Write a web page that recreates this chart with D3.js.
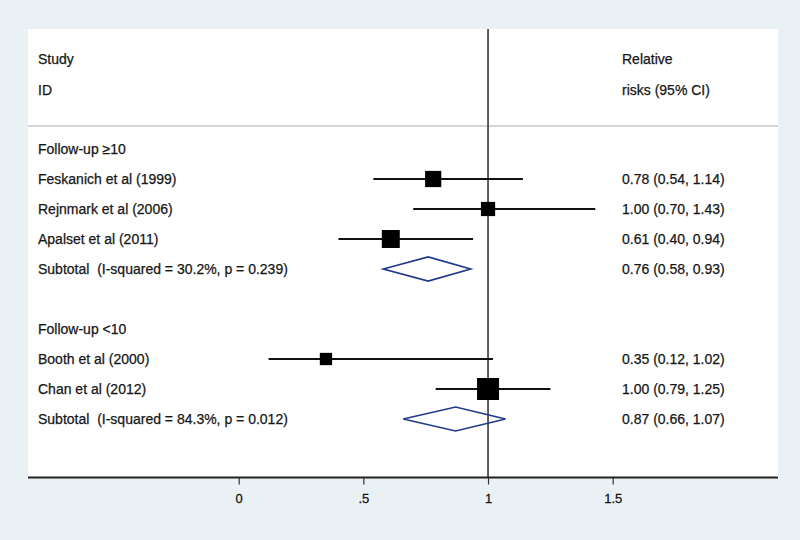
<!DOCTYPE html>
<html><head><meta charset="utf-8">
<script src="https://cdn.jsdelivr.net/npm/d3@7"></script>
<style>html,body{margin:0;padding:0;background:#e9f1f4;}svg{display:block;}text{white-space:pre;}</style>
</head><body>
<svg id="c" width="800" height="540"></svg>
<script>
// ---- data ----
const rowLabels = ["Follow-up \u226510","Feskanich et al (1999)","Rejnmark et al (2006)","Apalset et al (2011)","Subtotal  (I-squared = 30.2%, p = 0.239)","","Follow-up <10","Booth et al (2000)","Chan et al (2012)","Subtotal  (I-squared = 84.3%, p = 0.012)"];
const rowTypes = ["group","study","study","study","subtotal","blank","group","study","study","subtotal"];
const estimates = [null,0.78,1.00,0.61,0.76,null,null,0.35,1.00,0.87];
const lowerCI   = [null,0.54,0.70,0.40,0.58,null,null,0.12,0.79,0.66];
const upperCI   = [null,1.14,1.43,0.94,0.93,null,null,1.02,1.25,1.07];
const weights   = [null,26,20,32,null,null,null,15,48,null];
const effectText = ["","0.78 (0.54, 1.14)","1.00 (0.70, 1.43)","0.61 (0.40, 0.94)","0.76 (0.58, 0.93)","","","0.35 (0.12, 1.02)","1.00 (0.79, 1.25)","0.87 (0.66, 1.07)"];
const headerLeft = ["Study","ID"];
const headerRight = ["Relative","risks (95% CI)"];
const xTicks = [0,0.5,1,1.5];
const xTickLabels = ["0",".5","1","1.5"];

// ---- layout ----
const svg = d3.select("#c");
const W=800,H=540;
const plotL=28, plotR=778, plotT=29, axisY=477.5;
svg.append("rect").attr("width",W).attr("height",H).attr("fill","#e9f1f4");
svg.append("rect").attr("x",plotL).attr("y",plotT).attr("width",plotR-plotL).attr("height",axisY-plotT).attr("fill","#ffffff");

const x = d3.scaleLinear().domain([0,1.5]).range([238.7,612.7]);
const y = d3.scaleLinear().domain([0,1]).range([149,179]);
const font = "'Liberation Sans', Arial, Helvetica, sans-serif";
const txtCol = "#161616";
const fs = 14;

function label(t,xx,yy){
  svg.append("text").attr("x",xx).attr("y",yy).attr("dy","0.35em")
    .attr("font-family",font).attr("font-size",fs).attr("fill",txtCol)
    .attr("stroke",txtCol).attr("stroke-width",0.25).text(t);
}

// header
headerLeft.forEach((t,i)=>label(t,38,59+i*31));
headerRight.forEach((t,i)=>label(t,622,59+i*31));
svg.append("line").attr("x1",plotL).attr("x2",plotR).attr("y1",126).attr("y2",126)
  .attr("stroke","#c3c7cb").attr("stroke-width",1.6);

// null line
svg.append("line").attr("x1",x(1)).attr("x2",x(1)).attr("y1",plotT).attr("y2",axisY)
  .attr("stroke","#2a2a2a").attr("stroke-width",1.5);

const sizeScale = d3.scaleSqrt().domain([0,48]).range([0,22]);

rowLabels.forEach((lab,i)=>{
  const yy = y(i);
  if(lab) label(lab,38,yy);
  if(effectText[i]) label(effectText[i],622,yy);
  if(rowTypes[i]==="study"){
    svg.append("line").attr("x1",x(lowerCI[i])).attr("x2",x(upperCI[i])).attr("y1",yy).attr("y2",yy)
      .attr("stroke","#111").attr("stroke-width",1.8);
    const s = sizeScale(weights[i]);
    svg.append("rect").attr("x",x(estimates[i])-s/2).attr("y",yy-s/2).attr("width",s).attr("height",s)
      .attr("fill","#000");
  } else if(rowTypes[i]==="subtotal"){
    const h=12;
    const pts=[[x(lowerCI[i]),yy],[x(estimates[i]),yy-h],[x(upperCI[i]),yy],[x(estimates[i]),yy+h]];
    svg.append("path").attr("d",d3.line()(pts)+"Z").attr("fill","none")
      .attr("stroke","#1f3a8a").attr("stroke-width",1.7);
  }
});

// axis
const axis = d3.axisBottom(x).tickValues(xTicks).tickFormat((d,i)=>xTickLabels[i]).tickSize(7).tickPadding(9);
const g = svg.append("g").attr("transform",`translate(0,${axisY})`).call(axis);
g.select(".domain").remove();
g.selectAll(".tick line").attr("stroke","#333").attr("stroke-width",1.2);
g.selectAll(".tick text").attr("font-family",font).attr("font-size",13).attr("fill",txtCol)
  .attr("stroke",txtCol).attr("stroke-width",0.3);
svg.append("line").attr("x1",plotL).attr("x2",plotR).attr("y1",axisY).attr("y2",axisY)
  .attr("stroke","#222").attr("stroke-width",2);
</script>
</body></html>
